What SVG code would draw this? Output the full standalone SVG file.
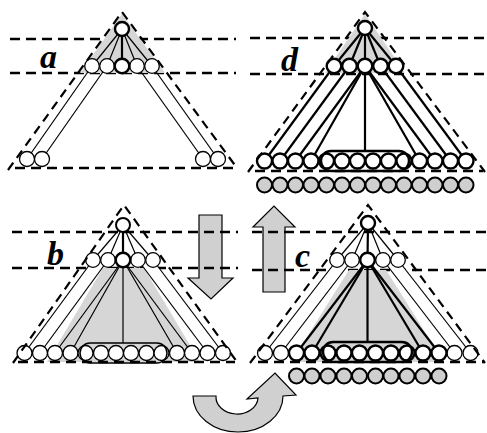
<svg xmlns="http://www.w3.org/2000/svg" width="487" height="433" viewBox="0 0 487 433">
<style>
.dash{stroke:#000;stroke-width:2.5;stroke-dasharray:10,6;fill:none}
.tri{stroke:#000;stroke-width:2.2;stroke-dasharray:9,6;fill:none}
.n{fill:#fff;stroke:#000;stroke-width:1.3}
.nt{fill:#fff;stroke:#000;stroke-width:2.4}
.g{fill:#cfcfcf;stroke:#000;stroke-width:2}
.l{stroke:#000;stroke-width:1.2;fill:none}
.lt{stroke:#000;stroke-width:2.2;fill:none}
.shade{fill:#d6d6d6;stroke:none}
.rib{fill:#fff;stroke:none}
.oval{fill:none;stroke:#000;stroke-width:1.5}
.ovalt{fill:none;stroke:#000;stroke-width:2.4}
.arr{fill:#d0d0d0;stroke:#000;stroke-width:1.2}
.lab{font-family:"Liberation Serif","Times New Roman",serif;font-weight:bold;font-style:italic;font-size:34px;fill:#000}
</style>
<rect width="487" height="433" fill="#fff"/>
<g id="arrows">
<path class="arr" d="M199,215 H222 V278 H233 L211,299 L188,278 H199 Z"/>
<path class="arr" d="M263,292 V227 H253 L274,206 L295,227 H285 V292 Z"/>
<path class="arr" d="M193,396 L216,396 A21,17 0 0 0 258,398 L247,399 L275,373 L296,395 L283,396 A45,36 0 0 1 193,396 Z"/>
</g>
<g id="guides">
<path class="dash" d="M10,39 H236 M10,73 H236 M250,38 H485 M250,74 H485"/>
<path class="dash" d="M12,232 H238 M12,268 H238 M252,232 H487 M252,270 H487"/>
</g>
<g id="panel-a">
<polygon class="shade" points="122,14 80,73 165,73"/>
<g class="connectors">
<line class="l" x1="122" y1="29" x2="92" y2="66"/>
<line class="l" x1="122" y1="29" x2="107" y2="66"/>
<line class="lt" x1="122" y1="29" x2="122" y2="66"/>
<line class="l" x1="122" y1="29" x2="137" y2="66"/>
<line class="l" x1="122" y1="29" x2="152" y2="66"/>
<line class="l" x1="92" y1="66" x2="27" y2="159"/>
<line class="l" x1="107" y1="66" x2="42" y2="159"/>
<line class="l" x1="137" y1="66" x2="203" y2="159"/>
<line class="l" x1="152" y1="66" x2="218" y2="159"/>
</g>
<circle class="nt" cx="122" cy="29" r="7"/>
<circle class="n" cx="92" cy="66" r="7.3"/>
<circle class="n" cx="107" cy="66" r="7.3"/>
<circle class="n" cx="137" cy="66" r="7.3"/>
<circle class="n" cx="152" cy="66" r="7.3"/>
<circle class="nt" cx="122" cy="66" r="7.3"/>
<circle class="n" cx="27" cy="159" r="7.5"/>
<circle class="n" cx="42" cy="159" r="7.5"/>
<circle class="n" cx="203" cy="159" r="7.5"/>
<circle class="n" cx="218" cy="159" r="7.5"/>
<path class="dash" d="M15,168 H234"/>
<path class="tri" d="M8,170 L122,12 L237,168"/>
<text class="lab" x="40" y="68">a</text>
</g>
<g id="panel-d">
<polygon class="shade" points="365,14 325,73 405,73"/>
<g class="connectors">
<line class="lt" x1="365" y1="28" x2="334" y2="66"/>
<line class="lt" x1="365" y1="28" x2="349.5" y2="66"/>
<line class="lt" x1="365" y1="28" x2="365" y2="66"/>
<line class="lt" x1="365" y1="28" x2="380.5" y2="66"/>
<line class="lt" x1="365" y1="28" x2="396" y2="66"/>
<line class="lt" x1="334" y1="66" x2="264.5" y2="161"/>
<line class="lt" x1="349.5" y1="66" x2="280" y2="161"/>
<line class="lt" x1="365" y1="66" x2="295.5" y2="161"/>
<line class="lt" x1="365" y1="66" x2="311" y2="161"/>
<line class="lt" x1="365" y1="66" x2="365" y2="151"/>
<line class="lt" x1="365" y1="66" x2="419.5" y2="161"/>
<line class="lt" x1="365" y1="66" x2="435" y2="161"/>
<line class="lt" x1="380.5" y1="66" x2="450.5" y2="161"/>
<line class="lt" x1="396" y1="66" x2="466" y2="161"/>
</g>
<circle class="nt" cx="365" cy="28" r="7"/>
<g class="nt">
<circle cx="334" cy="66" r="7.3"/><circle cx="349.5" cy="66" r="7.3"/><circle cx="365" cy="66" r="7.3"/><circle cx="380.5" cy="66" r="7.3"/><circle cx="396" cy="66" r="7.3"/>
</g>
<g class="nt">
<circle cx="264.5" cy="161" r="7.5"/><circle cx="280" cy="161" r="7.5"/><circle cx="295.5" cy="161" r="7.5"/><circle cx="311" cy="161" r="7.5"/><circle cx="326.5" cy="161" r="7.5"/><circle cx="342" cy="161" r="7.5"/><circle cx="357.5" cy="161" r="7.5"/><circle cx="373" cy="161" r="7.5"/><circle cx="388.5" cy="161" r="7.5"/><circle cx="404" cy="161" r="7.5"/><circle cx="419.5" cy="161" r="7.5"/><circle cx="435" cy="161" r="7.5"/><circle cx="450.5" cy="161" r="7.5"/><circle cx="466" cy="161" r="7.5"/>
</g>
<rect class="ovalt" x="321" y="151" width="88" height="20" rx="10"/>
<path class="dash" d="M255,171 H483"/>
<path class="tri" d="M248,172 L365,12 L485,172"/>
<g class="g">
<circle cx="264.5" cy="185" r="7.5"/><circle cx="280" cy="185" r="7.5"/><circle cx="295.5" cy="185" r="7.5"/><circle cx="311" cy="185" r="7.5"/><circle cx="326.5" cy="185" r="7.5"/><circle cx="342" cy="185" r="7.5"/><circle cx="357.5" cy="185" r="7.5"/><circle cx="373" cy="185" r="7.5"/><circle cx="388.5" cy="185" r="7.5"/><circle cx="404" cy="185" r="7.5"/><circle cx="419.5" cy="185" r="7.5"/><circle cx="435" cy="185" r="7.5"/><circle cx="450.5" cy="185" r="7.5"/><circle cx="466" cy="185" r="7.5"/>
</g>
<text class="lab" x="281" y="71">d</text>
</g>
<g id="panel-b">
<polygon class="shade" points="103,268 144,268 200,362 47,362"/>
<polygon class="rib" points="93,260 108,260 40,353 24.5,353"/>
<polygon class="rib" points="138,260 153,260 223,353 207.5,353"/>
<g class="connectors">
<line class="l" x1="123" y1="225" x2="93" y2="260"/>
<line class="l" x1="123" y1="225" x2="108" y2="260"/>
<line class="lt" x1="123" y1="225" x2="123" y2="260"/>
<line class="l" x1="123" y1="225" x2="138" y2="260"/>
<line class="l" x1="123" y1="225" x2="153" y2="260"/>
<line class="l" x1="93" y1="260" x2="24.5" y2="353"/>
<line class="l" x1="108" y1="260" x2="40" y2="353"/>
<line class="l" x1="123" y1="260" x2="55" y2="353"/>
<line class="l" x1="123" y1="260" x2="70.5" y2="353"/>
<line class="l" x1="123" y1="260" x2="123" y2="343"/>
<line class="l" x1="123" y1="260" x2="177" y2="353"/>
<line class="l" x1="123" y1="260" x2="192" y2="353"/>
<line class="l" x1="138" y1="260" x2="207.5" y2="353"/>
<line class="l" x1="153" y1="260" x2="223" y2="353"/>
</g>
<circle class="nt" cx="123" cy="225" r="7" style="stroke-width:2"/>
<g class="n">
<circle cx="93" cy="260" r="7.3"/><circle cx="108" cy="260" r="7.3"/><circle cx="138" cy="260" r="7.3"/><circle cx="153" cy="260" r="7.3"/>
</g>
<circle class="nt" cx="123" cy="260" r="7.3"/>
<g class="n">
<circle cx="24.5" cy="353" r="7.5"/><circle cx="40" cy="353" r="7.5"/><circle cx="55" cy="353" r="7.5"/><circle cx="70.5" cy="353" r="7.5"/><circle cx="85.5" cy="353" r="7.5"/><circle cx="101" cy="353" r="7.5"/><circle cx="116" cy="353" r="7.5"/><circle cx="131" cy="353" r="7.5"/><circle cx="146.5" cy="353" r="7.5"/><circle cx="161.5" cy="353" r="7.5"/><circle cx="177" cy="353" r="7.5"/><circle cx="192" cy="353" r="7.5"/><circle cx="207.5" cy="353" r="7.5"/><circle cx="223" cy="353" r="7.5"/>
</g>
<rect class="oval" x="80" y="343" width="87" height="20" rx="10"/>
<path class="dash" d="M18,362 H235"/>
<path class="tri" d="M13,363 L124,205 L237,362"/>
<text class="lab" x="47" y="265">b</text>
</g>
<g id="panel-c">
<polygon class="shade" points="349,270 386,270 444,362 291,362"/>
<polygon class="rib" points="337,260 352,260 281,353 265,353"/>
<polygon class="rib" points="383,260 398,260 470.5,353 454.5,353"/>
<g class="connectors">
<line class="l" x1="368" y1="223" x2="337" y2="260"/>
<line class="l" x1="368" y1="223" x2="352" y2="260"/>
<line class="lt" x1="368" y1="223" x2="367.5" y2="260"/>
<line class="l" x1="368" y1="223" x2="383" y2="260"/>
<line class="l" x1="368" y1="223" x2="398" y2="260"/>
<line class="l" x1="337" y1="260" x2="265" y2="353"/>
<line class="l" x1="352" y1="260" x2="281" y2="353"/>
<line class="lt" x1="367.5" y1="260" x2="296.5" y2="353"/>
<line class="lt" x1="367.5" y1="260" x2="312" y2="353"/>
<line class="lt" x1="367.5" y1="260" x2="367.5" y2="341"/>
<line class="lt" x1="367.5" y1="260" x2="423" y2="353"/>
<line class="lt" x1="367.5" y1="260" x2="439" y2="353"/>
<line class="l" x1="383" y1="260" x2="454.5" y2="353"/>
<line class="l" x1="398" y1="260" x2="470.5" y2="353"/>
</g>
<circle class="nt" cx="368" cy="223" r="7"/>
<g class="n">
<circle cx="337" cy="260" r="7.3"/><circle cx="352" cy="260" r="7.3"/><circle cx="383" cy="260" r="7.3"/><circle cx="398" cy="260" r="7.3"/>
</g>
<circle class="nt" cx="367.5" cy="260" r="7.3"/>
<g class="n">
<circle cx="265" cy="353" r="7.5"/><circle cx="281" cy="353" r="7.5"/><circle cx="454.5" cy="353" r="7.5"/><circle cx="470.5" cy="353" r="7.5"/>
</g>
<g class="nt">
<circle cx="296.5" cy="353" r="7.5"/><circle cx="312" cy="353" r="7.5"/><circle cx="328" cy="353" r="7.5"/><circle cx="344" cy="353" r="7.5"/><circle cx="359.5" cy="353" r="7.5"/><circle cx="375.5" cy="353" r="7.5"/><circle cx="391" cy="353" r="7.5"/><circle cx="407" cy="353" r="7.5"/><circle cx="423" cy="353" r="7.5"/><circle cx="439" cy="353" r="7.5"/>
</g>
<rect class="ovalt" x="323" y="342" width="89" height="20" rx="10"/>
<path class="dash" d="M258,362 H484"/>
<path class="tri" d="M250,363 L368,205 L485,363"/>
<g class="g">
<circle cx="296.5" cy="376" r="7.5"/><circle cx="312" cy="376" r="7.5"/><circle cx="328" cy="376" r="7.5"/><circle cx="344" cy="376" r="7.5"/><circle cx="359.5" cy="376" r="7.5"/><circle cx="375.5" cy="376" r="7.5"/><circle cx="391" cy="376" r="7.5"/><circle cx="407" cy="376" r="7.5"/><circle cx="423" cy="376" r="7.5"/><circle cx="439" cy="376" r="7.5"/>
</g>
<text class="lab" x="295" y="267">c</text>
</g>
</svg>
